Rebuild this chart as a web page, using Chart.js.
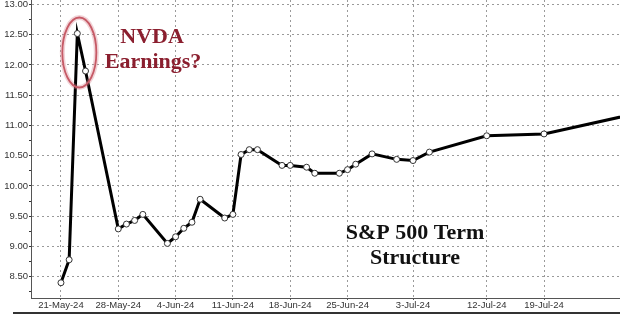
<!DOCTYPE html>
<html>
<head>
<meta charset="utf-8">
<script src="https://cdn.jsdelivr.net/npm/chart.js@4.4.1/dist/chart.umd.min.js"></script>
<style>
  html,body{margin:0;padding:0;background:#fff;}
  #wrap{position:relative;width:620px;height:314px;}
  #strip{position:absolute;left:13px;right:0;bottom:0;height:2px;background:#333;}
</style>
</head>
<body>
<div id="wrap"><canvas id="c" width="620" height="314"></canvas><div id="strip"></div></div>
<script>
// ---- data ----
const dates = ["2024-05-21","2024-05-22","2024-05-23","2024-05-24","2024-05-28","2024-05-29","2024-05-30","2024-05-31",
  "2024-06-03","2024-06-04","2024-06-05","2024-06-06","2024-06-07","2024-06-10","2024-06-11","2024-06-12","2024-06-13","2024-06-14",
  "2024-06-17","2024-06-18","2024-06-20","2024-06-21","2024-06-24","2024-06-25","2024-06-26","2024-06-28",
  "2024-07-01","2024-07-03","2024-07-05","2024-07-12","2024-07-19","2024-08-02"];
const values = [8.40,8.78,12.52,11.90,9.29,9.37,9.43,9.53,
  9.05,9.16,9.30,9.40,9.78,9.47,9.53,10.52,10.60,10.60,
  10.34,10.34,10.31,10.21,10.21,10.27,10.36,10.53,
  10.44,10.42,10.56,10.83,10.86,11.28];
const tickDates = ["2024-05-21","2024-05-28","2024-06-04","2024-06-11","2024-06-18","2024-06-25","2024-07-03","2024-07-12","2024-07-19"];
const tickLabels = ["21-May-24","28-May-24","4-Jun-24","11-Jun-24","18-Jun-24","25-Jun-24","3-Jul-24","12-Jul-24","19-Jul-24"];
const yTicks = [8.25,8.50,8.75,9.00,9.25,9.50,9.75,10.00,10.25,10.50,10.75,11.00,11.25,11.50,11.75,12.00,12.25,12.50,12.75,13.00];

// ---- helpers ----
const base = Date.UTC(2024,4,21);
const dayOf = s => { const [y,m,d] = s.split('-').map(Number); return (Date.UTC(y,m-1,d)-base)/86400000; };
const pts = dates.map((d,i)=>({x:dayOf(d), y:values[i]}));
const xTickVals = tickDates.map(dayOf);
const isMajor = v => Math.abs(v*2 - Math.round(v*2)) < 1e-6;

const annot = {
  id:'annot',
  afterDatasetsDraw(chart){
    const ctx = chart.ctx;
    const xs = chart.scales.x, ys = chart.scales.y;
    const px = xs.getPixelForValue(dayOf("2024-05-23")) + 2;
    const py = ys.getPixelForValue(12.52) + 19;
    ctx.save();
    ctx.strokeStyle = 'rgba(215,130,140,0.35)';
    ctx.lineWidth = 5;
    ctx.beginPath(); ctx.ellipse(px, py, 17, 35, 0, 0, Math.PI*2); ctx.stroke();
    ctx.strokeStyle = '#c65a66';
    ctx.lineWidth = 1.8;
    ctx.beginPath(); ctx.ellipse(px, py, 17, 35, 0, 0, Math.PI*2); ctx.stroke();
    ctx.textAlign = 'center';
    ctx.textBaseline = 'alphabetic';
    ctx.font = 'bold 22px "Liberation Serif", "DejaVu Serif", serif';
    ctx.fillStyle = '#8b1f2f';
    ctx.fillText('NVDA', 152, 43);
    ctx.fillText('Earnings?', 153, 68);
    ctx.fillStyle = '#111';
    ctx.fillText('S&P 500 Term', 415, 239);
    ctx.fillText('Structure', 415, 264);
    ctx.restore();
  }
};

new Chart(document.getElementById('c'), {
  type:'line',
  data:{ datasets:[{
    data: pts,
    borderColor:'#000',
    borderWidth:3,
    pointRadius:3,
    pointBackgroundColor:'#fff',
    pointBorderColor:'#333',
    pointBorderWidth:1,
    tension:0,
    clip: {left:0,top:5,right:0,bottom:5}
  }]},
  options:{
    responsive:false,
    animation:false,
    layout:{padding:0, autoPadding:false},
    plugins:{legend:{display:false},tooltip:{enabled:false}},
    scales:{
      x:{
        type:'linear',
        min:-3.66, max:68.28,
        afterBuildTicks(s){ s.ticks = xTickVals.map(v=>({value:v})); },
        afterFit(s){ s.height = 16; s.paddingLeft = 0; s.paddingRight = 0; },
        ticks:{
          autoSkip:false, maxRotation:0, padding:0,
          color:'#333',
          font:{family:'"Liberation Sans", Arial, sans-serif', size:9.5},
          callback:(v)=>{ const i = xTickVals.indexOf(v); return i>=0 ? tickLabels[i] : ''; }
        },
        grid:{ color:'#9a9a9a', lineWidth:1, drawTicks:true, tickLength:2, tickColor:'#555', tickBorderDash:[] },
        border:{ display:true, color:'#555', width:1, dash:[2,3] }
      },
      y:{
        min:8.148, max:13.074,
        afterBuildTicks(s){ s.ticks = yTicks.map(v=>({value:v})); },
        afterFit(s){ s.width = 31; s.paddingTop = 0; s.paddingBottom = 0; },
        ticks:{
          padding:1, color:'#333',
          font:{family:'"Liberation Sans", Arial, sans-serif', size:9.5},
          callback:(v)=> isMajor(v) ? v.toFixed(2) : ''
        },
        grid:{
          color:(c)=> (c.tick && isMajor(c.tick.value)) ? '#9a9a9a' : 'rgba(0,0,0,0)',
          lineWidth:1, drawTicks:true,
          tickLength:(c)=> (c.tick && isMajor(c.tick.value)) ? 4 : 2,
          tickColor:'#333', tickBorderDash:[]
        },
        border:{ display:true, color:'#555', width:1, dash:[2,3] }
      }
    }
  },
  plugins:[annot]
});
</script>
</body>
</html>
